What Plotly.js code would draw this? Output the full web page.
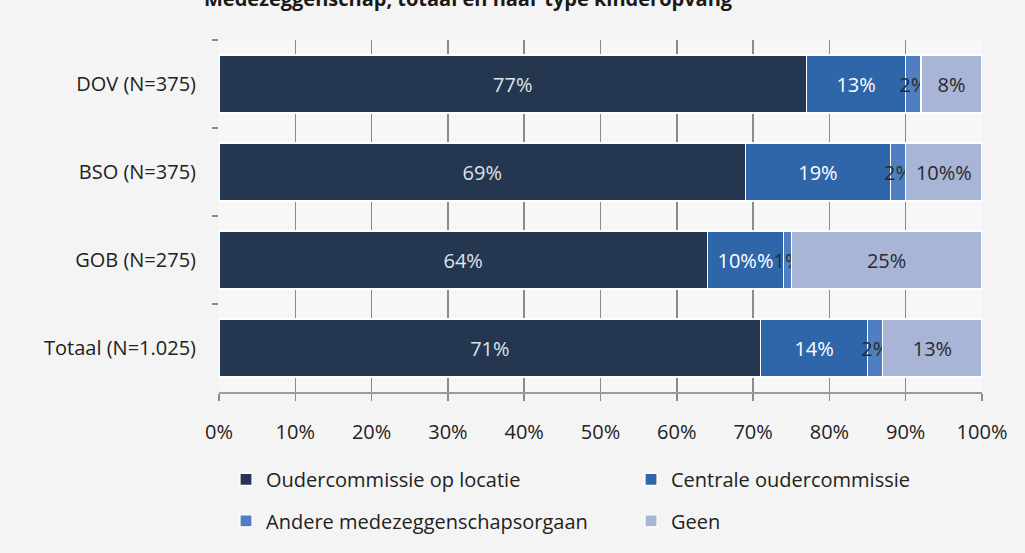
<!DOCTYPE html>
<html>
<head>
<meta charset="utf-8">
<script src="https://cdn.plot.ly/plotly-3.0.1.min.js"></script>
<style>html,body{margin:0;padding:0;background:#f4f4f4;}#chart{width:1025px;height:553px;}</style>
</head>
<body>
<div id="chart"></div>
<script>
const categories = ["DOV (N=375)", "BSO (N=375)", "GOB (N=275)", "Totaal (N=1.025)"];
const seriesNames = ["Oudercommissie op locatie", "Centrale oudercommissie", "Andere medezeggenschapsorgaan", "Geen"];
const oudercommissieOpLocatie = [77, 69, 64, 71];
const centraleOudercommissie = [13, 19, 10, 14];
const andereMedezeggenschapsorgaan = [2, 2, 1, 2];
const geen = [8, 10, 25, 13];
const xTickValues = [0, 10, 20, 30, 40, 50, 60, 70, 80, 90, 100];
const xTickLabels = ["0%", "10%", "20%", "30%", "40%", "50%", "60%", "70%", "80%", "90%", "100%"];
const titleText = "Medezeggenschap, totaal en naar type kinderopvang";

const FONT = "'Open Sans', sans-serif";
const colors = ["#243650", "#2f66aa", "#4f7fc0", "#a8b5d7"];
const textColors = ["#dfe3ea", "#ffffff", "#2a2a2a", "#2a2a2a"];
const values = [oudercommissieOpLocatie, centraleOudercommissie, andereMedezeggenschapsorgaan, geen];
const legendIds = ["legend", "legend2", "legend3", "legend4"];

const traces = values.map((v, i) => ({
  type: "bar",
  orientation: "h",
  name: seriesNames[i],
  y: categories,
  x: v,
  legend: legendIds[i],
  marker: {color: colors[i], line: {color: "#ffffff", width: 1.2}},
  texttemplate: "%{x}%",
  textposition: "inside",
  insidetextanchor: "middle",
  constraintext: "none",
  textangle: 0,
  textfont: {family: FONT, size: 20, color: textColors[i]},
  hoverinfo: "skip"
}));

function legendAt(x, y) {
  return {
    orientation: "h",
    x: x, xanchor: "left",
    y: y, yanchor: "middle",
    bgcolor: "rgba(0,0,0,0)",
    itemwidth: 30,
    font: {family: FONT, size: 20, color: "#222222"},
    itemclick: false, itemdoubleclick: false
  };
}

const layout = {
  width: 1025,
  height: 553,
  barmode: "stack",
  bargap: 0.34,
  paper_bgcolor: "#f4f4f4",
  plot_bgcolor: "#f7f7f7",
  margin: {l: 219, r: 43, t: 40, b: 158},
  font: {family: FONT, color: "#222222"},
  showlegend: true,
  xaxis: {
    range: [0, 100],
    tickvals: xTickValues,
    ticktext: xTickLabels,
    showgrid: true,
    gridcolor: "#8a8a8a",
    gridwidth: 1.5,
    zeroline: false,
    showline: true,
    linecolor: "#9a9a9a",
    linewidth: 1.5,
    ticks: "outside",
    ticklen: 7,
    tickcolor: "#8a8a8a",
    tickwidth: 1.5,
    ticklabelstandoff: 14,
    tickfont: {family: FONT, size: 20, color: "#222222"},
    fixedrange: true
  },
  yaxis: {
    categoryorder: "array",
    categoryarray: categories,
    autorange: "reversed",
    ticks: "outside",
    tickson: "boundaries",
    ticklen: 6,
    tickcolor: "#8a8a8a",
    tickwidth: 1.5,
    showline: false,
    ticklabelstandoff: 22,
    tickfont: {family: FONT, size: 20, color: "#222222"},
    fixedrange: true
  },
  legend: legendAt(0.0092, -0.248),
  legend2: legendAt(0.540, -0.248),
  legend3: legendAt(0.0092, -0.366),
  legend4: legendAt(0.540, -0.366),
  annotations: [{
    text: "<b>" + titleText + "</b>",
    xref: "paper", yref: "paper",
    x: 0.676, xanchor: "right",
    y: 1, yanchor: "middle", yshift: 42,
    showarrow: false,
    font: {family: FONT, size: 20, color: "#1a1a1a"}
  }]
};

Plotly.newPlot("chart", traces, layout, {displayModeBar: false, staticPlot: true});
</script>
</body>
</html>
